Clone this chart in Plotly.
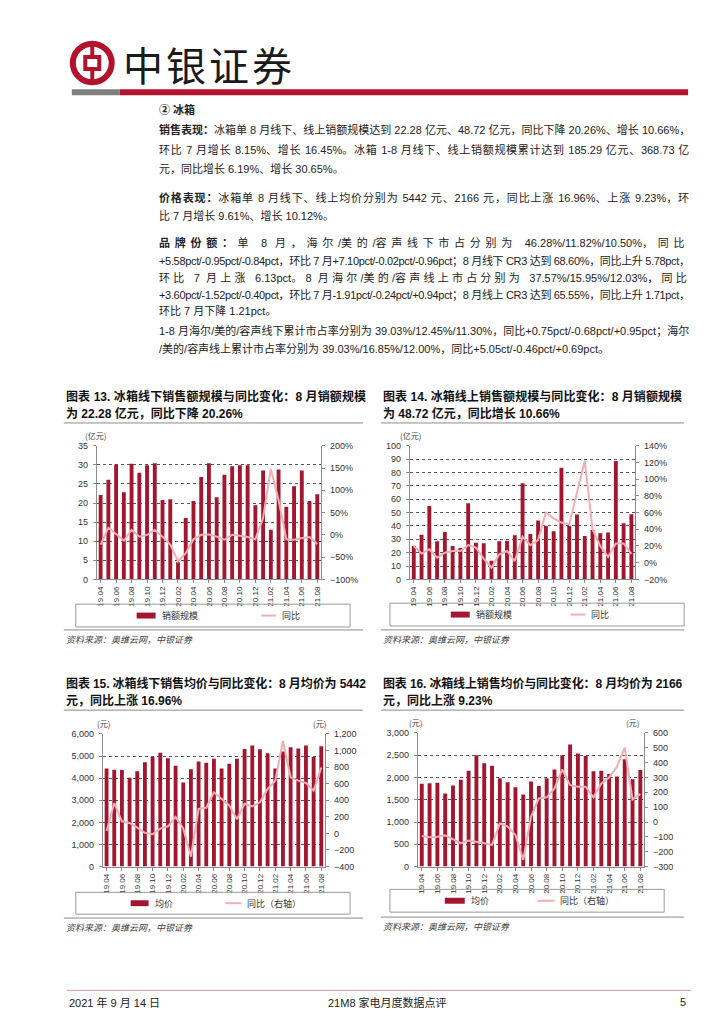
import plotly.graph_objects as go

# ---------------- data ----------------
months = ['19.04', '19.05', '19.06', '19.07', '19.08', '19.09', '19.10', '19.11', '19.12',
          '20.01', '20.02', '20.03', '20.04', '20.05', '20.06', '20.07', '20.08', '20.09',
          '20.10', '20.11', '20.12', '21.01', '21.02', '21.03', '21.04', '21.05', '21.06',
          '21.07', '21.08']
tick_labels = months[::2]

# 图表13 冰箱线下销售额(亿元) / 同比(%)
offline_sales = [22.1, 26.1, 30.1, 22.8, 30.3, 27.9, 29.9, 30.4, 20.8, 21.0, 4.5, 16.1, 20.5,
                 26.8, 30.4, 21.5, 27.4, 29.6, 29.9, 29.9, 19.4, 28.5, 13.0, 28.8, 19.0, 24.4,
                 28.5, 20.5, 22.28]
offline_sales_yoy = [-22, 16, 2, -13, 11, -4, 0, 11, -4, -22, -59, -41, -10, 0, 1, -4, -11, 0,
                     -2, -5, -10, 38, 148, 78, -10, -11, -7, -5, -20.26]

# 图表14 冰箱线上销售额(亿元) / 同比(%)
online_sales = [25, 33.5, 55, 28.5, 35.5, 25, 23.5, 57, 27.5, 27, 14, 28.5, 29, 33, 72, 34, 44,
                40, 36, 83.5, 40, 48.5, 32.5, 37, 34.5, 35, 88.5, 42, 48.72]
online_sales_yoy = [20, 11, 16, 6, 12, 14, 14, 21, 18, 5, -6, 10, 14, 2, 31, 21, 27, 60, 53, 48,
                    46, 83, 122, 40, 20, 7, 23, 23, 10.66]

# 图表15 冰箱线下均价(元) / 同比(元)
offline_price = [4430, 4380, 4370, 4020, 4310, 4720, 4960, 5150, 4900, 4560, 3800, 4400, 4750,
                 4700, 4880, 4430, 4650, 4880, 5320, 5470, 5300, 5120, 4440, 5200, 5400, 5340,
                 5480, 4960, 5442]
offline_price_yoy = [28, 365, 146, 126, 70, 6, -10, 58, 86, 198, 60, -280, 297, 309, 496, 417,
                     337, 170, 357, 325, 377, 536, 636, 1114, 676, 636, 608, 516, 795]

# 图表16 冰箱线上均价(元) / 同比(元)
online_price = [1860, 1870, 1880, 1640, 1820, 1950, 2150, 2500, 2320, 2260, 1980, 1890, 1780,
                1620, 1910, 1810, 1980, 2180, 2500, 2740, 2540, 2480, 2140, 2150, 2080, 2020,
                2410, 1960, 2166]
online_price_yoy = [-94, -103, -99, -90, -116, -143, -125, -132, -143, -154, -9, -31, -87, -255,
                    36, 159, 166, 226, 354, 248, 237, 237, 166, 260, 300, 372, 501, 152, 188]

chart_titles = [
    ["图表 13. 冰箱线下销售额规模与同比变化：8 月销额规模", "为 22.28 亿元，同比下降 20.26%"],
    ["图表 14. 冰箱线上销售额规模与同比变化：8 月销额规模", "为 48.72 亿元，同比增长 10.66%"],
    ["图表 15. 冰箱线下销售均价与同比变化：8 月均价为 5442", "元，同比上涨 16.96%"],
    ["图表 16. 冰箱线上销售均价与同比变化：8 月均价为 2166", "元，同比上涨 9.23%"],
]
legend_labels = [["销额规模", "同比"], ["销额规模", "同比"],
                 ["均价", "同比（右轴）"], ["均价", "同比（右轴）"]]
source_text = "资料来源：奥维云网，中银证券"

body_lines = [
    [("② 冰箱", True)],
    [("销售表现：", True), ("冰箱单 8 月线下、线上销额规模达到 22.28 亿元、48.72 亿元，同比下降 20.26%、增长 10.66%，", False)],
    [("环比 7 月增长 8.15%、增长 16.45%。冰箱 1-8 月线下、线上销额规模累计达到 185.29 亿元、368.73 亿", False)],
    [("元，同比增长 6.19%、增长 30.65%。", False)],
    [("价格表现：", True), ("冰箱单 8 月线下、线上均价分别为 5442 元、2166 元，同比上涨 16.96%、上涨 9.23%，环", False)],
    [("比 7 月增长 9.61%、增长 10.12%。", False)],
    [("品牌份额：", True), ("单 8 月，海尔/美的/容声线下市占分别为 46.28%/11.82%/10.50%，同比", False)],
    [("+5.58pct/-0.95pct/-0.84pct，环比 7 月+7.10pct/-0.02pct/-0.96pct；8 月线下 CR3 达到 68.60%，同比上升 5.78pct，", False)],
    [("环比 7 月上涨 6.13pct。8 月海尔/美的/容声线上市占分别为 37.57%/15.95%/12.03%，同比", False)],
    [("+3.60pct/-1.52pct/-0.40pct，环比 7 月-1.91pct/-0.24pct/+0.94pct；8 月线上 CR3 达到 65.55%，同比上升 1.71pct，", False)],
    [("环比 7 月下降 1.21pct。", False)],
    [("1-8 月海尔/美的/容声线下累计市占率分别为 39.03%/12.45%/11.30%，同比+0.75pct/-0.68pct/+0.95pct；海尔", False)],
    [("/美的/容声线上累计市占率分别为 39.03%/16.85%/12.00%，同比+5.05ct/-0.46pct/+0.69pct。", False)],
]
body_y = [97, 118, 137.5, 157, 186, 205, 232, 250, 267, 284, 300, 321, 339]
body_just = [False, True, True, False, True, False, True, True, True, True, False, True, False]

# ---------------- helpers ----------------
W, H = 724, 1024


def fx(x):
    return x / W


def fy(y):
    return 1 - y / H


BAR = '#a3162f'
PINK = '#f2aeb3'
AXIS = '#8c8c8c'
GRID = '#555555'
TXT = '#222222'
FONT = 'Liberation Sans, Noto Sans CJK SC, sans-serif'
CJK = 'Noto Sans CJK SC, Liberation Sans, sans-serif'

ARIAL = {' ': 278, '.': 278, '%': 889, '/': 278, '-': 333, '+': 584, ',': 278, 'p': 556,
         'c': 500, 't': 278, 'C': 722, 'R': 722, 'M': 833}


def est_width(s, size):
    w = 0.0
    for ch in s:
        if ch.isdigit():
            w += 556
        elif ch in ARIAL:
            w += ARIAL[ch]
        elif ord(ch) >= 0x2000:
            w += 1000
        else:
            w += 556
    return w * size / 1000.0


def is_loose(ch):
    return ch == ' ' or ord(ch) >= 0x2000


def justify(segments, size, target):
    """Spread the slack over CJK characters and spaces, keeping Latin runs intact."""
    total = sum(est_width(t, size) for t, _ in segments)
    slack = (target - total) if target else 0.0
    n_loose = sum(1 for t, _ in segments for ch in t if is_loose(ch))
    n_all = sum(len(t) for t, _ in segments)
    if slack >= 0:
        ls_loose, ls_tight = slack / max(n_loose, 1), 0.0
    else:
        ls_loose = ls_tight = slack / max(n_all - 1, 1)
    parts = []
    for t, b in segments:
        runs = []
        for ch in t:
            kind = is_loose(ch)
            if runs and runs[-1][0] == kind:
                runs[-1][1] += ch
            else:
                runs.append([kind, ch])
        for kind, txt in runs:
            style = 'letter-spacing:%.2fpx' % (ls_loose if kind else ls_tight)
            if b:
                style += ';font-weight:bold'
            parts.append('<span style="%s">%s</span>' % (style, txt))
    return ''.join(parts)


def hline(x0, x1, y, color, width):
    return dict(type='line', xref='paper', yref='paper', x0=fx(x0), x1=fx(x1), y0=fy(y), y1=fy(y),
                line=dict(color=color, width=width), layer='above')


def rect(x0, x1, y0, y1, fill='rgba(0,0,0,0)', lc='rgba(0,0,0,0)', lw=0):
    return dict(type='rect', xref='paper', yref='paper', x0=fx(x0), x1=fx(x1), y0=fy(y1), y1=fy(y0),
                fillcolor=fill, line=dict(color=lc, width=lw), layer='above')


def ann(x, y, text, size=11, color=TXT, family=FONT, xanchor='left', weight='normal', style='normal'):
    return dict(x=fx(x), y=fy(y), xref='paper', yref='paper', xanchor=xanchor, yanchor='middle',
                text=text, showarrow=False,
                font=dict(size=size, color=color, family=family, weight=weight, style=style))


fig = go.Figure()
shapes = []
annotations = []

# ---------------- header ----------------
RED = '#b3122d'
shapes.append(dict(type='circle', xref='paper', yref='paper', x0=fx(64), x1=fx(103), y0=fy(70), y1=fy(31),
                   line=dict(color=RED, width=6)))
shapes.append(dict(type='rect', xref='paper', yref='paper', x0=fx(76.5), x1=fx(90.5), y0=fy(56.5), y1=fy(44.5),
                   line=dict(color=RED, width=4)))
shapes.append(dict(type='line', xref='paper', yref='paper', x0=fx(83.5), x1=fx(83.5), y0=fy(44.5), y1=fy(31),
                   line=dict(color=RED, width=4)))
shapes.append(dict(type='line', xref='paper', yref='paper', x0=fx(83.5), x1=fx(83.5), y0=fy(70), y1=fy(56.5),
                   line=dict(color=RED, width=4)))
annotations.append(ann(112, 51, '<span style="letter-spacing:3px">中银证券</span>', size=40,
                       color='#1a1a1a', family=CJK))
shapes.append(rect(63, 111, 77, 83, fill='#808080'))
shapes.append(rect(111, 681, 77, 83, fill=RED))

# ---------------- body text ----------------
TX0, TX1 = 148, 679
for segs, y, j in zip(body_lines, body_y, body_just):
    html = justify(segs, 11, (TX1 - TX0) if j else 0)
    annotations.append(ann(TX0, y, html, size=11, color=TXT))

# ---------------- charts ----------------
charts = [
    dict(bars=offline_sales, line=offline_sales_yoy, box=(88, 313, 437, 572),
         yl=[0, 35], dl=5, lfmt='', yr=[-100, 200], dr=50, rfmt='', rsuf='%',
         tx=55, tx1=355, ty=(387, 404), div=414, units=[('(亿元)', 87, 427)],
         leg=(67, 342, 597, 620), bs=(128, 147), bl=151, ls=(253, 268), ll=272,
         bottom=623, src=633),
    dict(bars=online_sales, line=online_sales_yoy, box=(402, 628, 437, 572),
         yl=[0, 100], dl=10, lfmt='', yr=[-20, 140], dr=20, rfmt='', rsuf='%',
         tx=373, tx1=672, ty=(387, 404), div=414, units=[('(亿元)', 403, 427)],
         leg=(382, 677, 596, 619), bs=(443, 462), bl=466, ls=(563, 578), ll=582,
         bottom=623, src=633),
    dict(bars=offline_price, line=offline_price_yoy, box=(94, 317, 728, 862),
         yl=[0, 6000], dl=1000, lfmt=',d', yr=[-400, 1200], dr=200, rfmt=',d', rsuf='',
         tx=55, tx1=355, ty=(677, 694), div=704, units=[('(元)', 95, 718), ('(元)', 311, 718)],
         leg=(67, 342, 888, 910), bs=(122, 140), bl=144, ls=(217, 233), ll=237,
         bottom=914, src=924),
    dict(bars=online_price, line=online_price_yoy, box=(410, 637, 727, 862),
         yl=[0, 3000], dl=500, lfmt=',d', yr=[-300, 600], dr=100, rfmt=',d', rsuf='',
         tx=373, tx1=672, ty=(677, 694), div=704, units=[('(元)', 408, 717), ('(元)', 625, 717)],
         leg=(382, 657, 885, 908), bs=(437, 457), bl=461, ls=(530, 547), ll=551,
         bottom=913, src=923),
]

layout_axes = {}
for i, c in enumerate(charts):
    xid = 'x' if i == 0 else 'x%d' % (i + 1)
    ylid = 'y' if i == 0 else 'y%d' % (2 * i + 1)
    yrid = 'y%d' % (2 * i + 2)
    xname = 'xaxis' if i == 0 else 'xaxis%d' % (i + 1)
    ylname = 'yaxis' if i == 0 else 'yaxis%d' % (2 * i + 1)
    yrname = 'yaxis%d' % (2 * i + 2)
    x0, x1, y0, y1 = c['box']

    fig.add_trace(go.Bar(x=months, y=c['bars'], xaxis=xid, yaxis=ylid, width=0.5,
                         marker=dict(color=BAR, line=dict(width=0)), showlegend=False,
                         hoverinfo='skip'))
    fig.add_trace(go.Scatter(x=months, y=c['line'], xaxis=xid, yaxis=yrid, mode='lines',
                             line=dict(color=PINK, width=2), showlegend=False, hoverinfo='skip'))

    tickfont = dict(size=9, color='#333333', family=FONT)
    layout_axes[xname] = dict(domain=[fx(x0), fx(x1)], anchor=ylid, type='category',
                              categoryorder='array', categoryarray=months, range=[-0.5, 28.5],
                              tickmode='array', tickvals=tick_labels, ticktext=tick_labels,
                              tickangle=-90, tickfont=dict(size=8, color='#333333', family=FONT),
                              showline=True, linecolor=AXIS, linewidth=1, ticks='outside',
                              ticklen=3, tickcolor=AXIS, showgrid=False, zeroline=False,
                              fixedrange=True)
    layout_axes[ylname] = dict(domain=[fy(y1), fy(y0)], anchor=xid, range=c['yl'],
                               tickmode='linear', tick0=c['yl'][0], dtick=c['dl'],
                               tickformat=c['lfmt'], showgrid=True, gridcolor=GRID,
                               griddash='dot', gridwidth=1, showline=True, linecolor=AXIS,
                               ticks='outside', ticklen=3, tickcolor=AXIS, tickfont=tickfont,
                               zeroline=False, fixedrange=True, ticklabelstandoff=3)
    layout_axes[yrname] = dict(overlaying=ylid, side='right', anchor=xid, range=c['yr'],
                               tickmode='linear', tick0=c['yr'][0], dtick=c['dr'],
                               tickformat=c['rfmt'], ticksuffix=c['rsuf'], showgrid=False,
                               showline=True, linecolor=AXIS, ticks='outside', ticklen=3,
                               tickcolor=AXIS, tickfont=tickfont, zeroline=False,
                               fixedrange=True, ticklabelstandoff=3)

    # titles
    t1 = justify([(chart_titles[i][0], False)], 12, c['tx1'] - c['tx'])
    annotations.append(ann(c['tx'], c['ty'][0], t1, size=12, color='#111111', weight='bold'))
    annotations.append(ann(c['tx'], c['ty'][1], chart_titles[i][1], size=12, color='#111111',
                           weight='bold'))
    rule_end = c['tx'] + 300 if i % 2 == 0 else 677
    shapes.append(hline(c['tx'], rule_end, c['div'], '#8a8a8a', 1))
    # units
    for txt, ux, uy in c['units']:
        annotations.append(ann(ux, uy, txt, size=8, color='#444444', family=CJK, xanchor='center'))
    # legend
    lx0, lx1, ly0, ly1 = c['leg']
    shapes.append(rect(lx0, lx1, ly0, ly1, lc='#9a9a9a', lw=1))
    cy = (ly0 + ly1) / 2
    shapes.append(rect(c['bs'][0], c['bs'][1], cy - 3, cy + 3, fill=BAR))
    shapes.append(hline(c['ls'][0], c['ls'][1], cy, PINK, 2))
    annotations.append(ann(c['bl'], cy, legend_labels[i][0], size=9, color='#333333', family=CJK))
    annotations.append(ann(c['ll'], cy, legend_labels[i][1], size=9, color='#333333', family=CJK))
    # bottom rule + source
    shapes.append(hline(c['tx'], rule_end, c['bottom'], '#8a8a8a', 1))
    annotations.append(ann(c['tx'], c['src'], source_text, size=9, color='#444444', family=CJK,
                           style='italic'))

# ---------------- footer ----------------
shapes.append(hline(58, 684, 987, '#cf9aa4', 1))
annotations.append(ann(58, 999, "2021 年 9 月 14 日", size=11, color=TXT))
annotations.append(ann(380, 999, "21M8 家电月度数据点评", size=11, color=TXT, xanchor='center'))
annotations.append(ann(681, 999, "5", size=11, color=TXT, xanchor='right'))

fig.update_layout(
    width=W, height=H, margin=dict(l=0, r=0, t=0, b=0),
    paper_bgcolor='white', plot_bgcolor='white',
    font=dict(family=FONT, size=11, color=TXT),
    showlegend=False, shapes=shapes, annotations=annotations,
    **layout_axes
)

fig.write_html("out.html")
